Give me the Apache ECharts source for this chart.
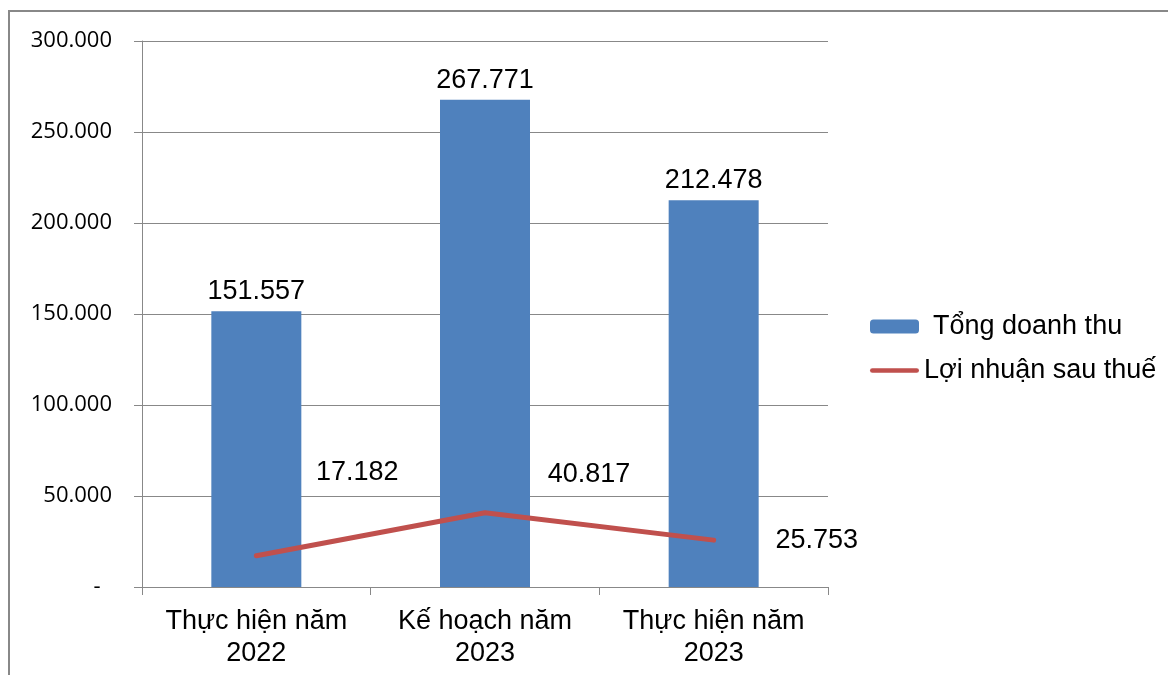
<!DOCTYPE html>
<html>
<head>
<meta charset="utf-8">
<script src="https://cdn.jsdelivr.net/npm/echarts@6/dist/echarts.min.js"></script>
<style>
  html, body { margin: 0; padding: 0; background: #fff; }
  #chart { width: 1168px; height: 675px; }
</style>
</head>
<body>
<div id="chart"></div>
<script>
const categories = ['Thực hiện năm\n2022', 'Kế hoạch năm\n2023', 'Thực hiện năm\n2023'];
const revenue = [151557, 267771, 212478];
const profit = [17182, 40817, 25753];
const seriesNames = ['Tổng doanh thu', 'Lợi nhuận sau thuế'];

// nhãn lợi nhuận được đặt lệch tay như bản gốc
const profitLabelOffsets = [[101, -83], [104, -38], [103, 0]];

function fmt(v) {
    if (v === 0) return '-  ';
    return String(Math.round(v)).replace(/\B(?=(\d{3})+(?!\d))/g, '.');
}

const chart = echarts.init(document.getElementById('chart'));

chart.setOption({
    animation: false,
    textStyle: { fontFamily: 'Liberation Sans, Arial, sans-serif' },
    graphic: [{
        type: 'rect',
        shape: { x: 9, y: 11, width: 1300, height: 800 },
        style: { fill: 'none', stroke: '#888', lineWidth: 2 },
        silent: true
    }],
    grid: { left: 142, right: 340, top: 41, bottom: 88 },
    legend: {
        orient: 'vertical',
        left: 865,
        top: 308,
        itemWidth: 49,
        itemHeight: 14,
        itemGap: 17,
        textStyle: { fontSize: 27, color: '#000', fontFamily: 'Liberation Sans, Arial, sans-serif' },
        data: [
            { name: seriesNames[0], textStyle: { padding: [0, 0, 0, 9] } },
            {
                name: seriesNames[1],
                icon: 'path://M0,0M52,14M2.5,4.5L49.5,4.5A2.5,2.5,0,0,1,49.5,9.5L2.5,9.5A2.5,2.5,0,0,1,2.5,4.5Z',
                itemStyle: { color: '#C0504D' }
            }
        ]
    },
    xAxis: {
        type: 'category',
        data: categories,
        axisLine: { lineStyle: { color: '#888', width: 1 } },
        axisTick: { show: true, interval: 0, length: 8, lineStyle: { color: '#888' } },
        axisLabel: {
            interval: 0,
            color: '#000',
            fontSize: 27,
            lineHeight: 32,
            margin: 19,
            fontFamily: 'Liberation Sans, Arial, sans-serif'
        }
    },
    yAxis: {
        type: 'value',
        min: 0,
        max: 300000,
        interval: 50000,
        axisLine: { show: true, lineStyle: { color: '#888', width: 1 } },
        axisTick: { show: true, length: 8, lineStyle: { color: '#888' } },
        splitLine: { lineStyle: { color: '#888', width: 1 } },
        axisLabel: {
            color: '#000',
            fontSize: 22,
            margin: 30,
            fontFamily: '"Open Sans", "Noto Sans", sans-serif',
            formatter: fmt
        }
    },
    series: [
        {
            name: seriesNames[0],
            type: 'bar',
            barWidth: 90,
            data: revenue,
            itemStyle: { color: '#4F81BD' },
            label: {
                show: true,
                position: 'top',
                distance: 6,
                color: '#000',
                fontSize: 27,
                fontFamily: 'Liberation Sans, Arial, sans-serif',
                formatter: p => fmt(p.value)
            }
        },
        {
            name: seriesNames[1],
            type: 'line',
            symbol: 'circle',
            symbolSize: 1,
            data: profit.map((v, i) => ({
                value: v,
                label: { offset: profitLabelOffsets[i] }
            })),
            lineStyle: { color: '#C0504D', width: 5, cap: 'round' },
            itemStyle: { color: '#C0504D' },
            label: {
                show: true,
                position: 'inside',
                color: '#000',
                fontSize: 27,
                fontFamily: 'Liberation Sans, Arial, sans-serif',
                formatter: p => fmt(p.value)
            }
        }
    ]
});
</script>
</body>
</html>
